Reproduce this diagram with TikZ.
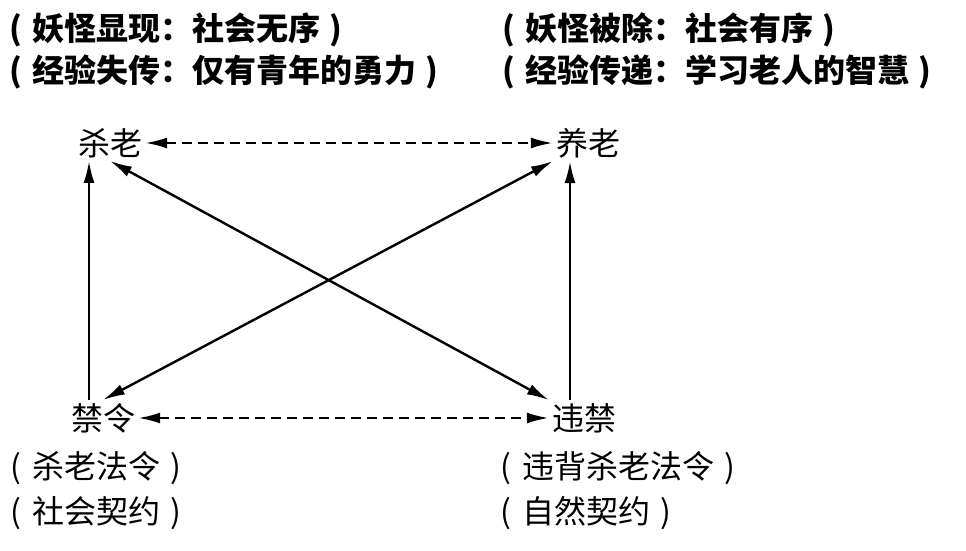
\documentclass[tikz,border=0pt]{standalone}
\usepackage{fontspec}
\setmainfont{Noto Sans CJK SC}
\usepackage{tikz}
\usetikzlibrary{arrows.meta}
\newcommand{\lp}{\makebox[1em]{(}}
\newcommand{\rp}{\makebox[1em]{)}}

\begin{document}
\begin{tikzpicture}[x=1pt,y=-1pt,
  txt/.style={anchor=west,inner sep=0pt,font=\fontsize{32}{36}\selectfont},
  head/.style={txt,font=\fontsize{32}{36}\selectfont\bfseries},
  term/.style={inner sep=3pt,font=\fontsize{32}{36}\selectfont},
  arr/.style={line width=2.4pt,-{Latex[length=22pt,width=11pt]}},
  both/.style={line width=2.4pt,{Latex[length=22pt,width=11pt]}-{Latex[length=22pt,width=11pt]}},
  dasharr/.style={both,dash pattern=on 10pt off 6pt}]
\useasboundingbox (0,0) rectangle (966,551);
\node[head] (t1) at (0,30) {\lp 妖怪显现：社会无序\rp};
\node[head] (t2) at (0,72) {\lp 经验失传：仅有青年的勇力\rp};
\node[head] (t3) at (493,30) {\lp 妖怪被除：社会有序\rp};
\node[head] (t4) at (493,72) {\lp 经验传递：学习老人的智慧\rp};
\node[term] (sha) at (110,143) {杀老};
\node[term] (yang) at (588,143) {养老};
\node[term] (jin) at (103,418) {禁令};
\node[term] (wei) at (584,418) {违禁};
\node[txt] (b1) at (0,468) {\lp 杀老法令\rp};
\node[txt] (b2) at (0,513) {\lp 社会契约\rp};
\node[txt] (b3) at (490,468) {\lp 违背杀老法令\rp};
\node[txt] (b4) at (490,513) {\lp 自然契约\rp};
\coordinate (l) at (89,0);
\coordinate (r) at (570,0);
\draw[dasharr] (sha) -- (yang);
\draw[dasharr] (jin) -- (wei);
\draw[arr] (jin.north -| l) -- (sha.south -| l);
\draw[arr] (wei.north -| r) -- (yang.south -| r);
\draw[both] (sha.south) -- (wei.north west);
\draw[both] (yang.south west) -- (jin.north);
\end{tikzpicture}
\end{document}
